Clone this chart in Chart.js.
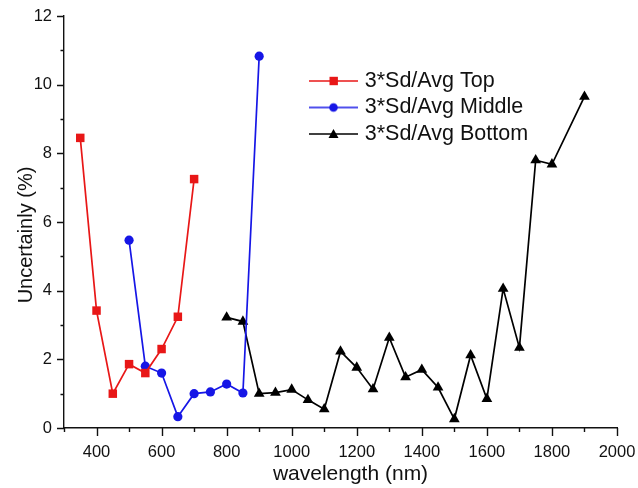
<!DOCTYPE html>
<html>
<head>
<meta charset="utf-8">
<script src="https://cdn.jsdelivr.net/npm/chart.js@4.4.1/dist/chart.umd.min.js"></script>
<style>
  html, body { margin: 0; padding: 0; background: #fff; }
  #wrap { width: 638px; height: 488px; }
</style>
</head>
<body>
<div id="wrap"><canvas id="myChart" width="638" height="488"></canvas></div>
<script>
// wavelength (nm) and uncertainty (%) per series
const topWavelength = [350, 400, 450, 500, 550, 600, 650, 700];
const topValues = [8.45, 3.42, 1.0, 1.86, 1.6, 2.3, 3.24, 7.25];

const middleWavelength = [500, 550, 600, 650, 700, 750, 800, 850, 900];
const middleValues = [5.47, 1.8, 1.6, 0.33, 1.0, 1.05, 1.28, 1.02, 10.83];

const bottomWavelength = [800, 850, 900, 950, 1000, 1050, 1100, 1150, 1200, 1250, 1300, 1350, 1400, 1450, 1500, 1550, 1600, 1650, 1700, 1750, 1800, 1900];
const bottomValues = [3.22, 3.1, 1.0, 1.03, 1.12, 0.82, 0.55, 2.23, 1.76, 1.13, 2.63, 1.48, 1.7, 1.18, 0.26, 2.12, 0.85, 4.06, 2.34, 7.8, 7.68, 9.65];

const seriesNames = ["3*Sd/Avg Top", "3*Sd/Avg Middle", "3*Sd/Avg Bottom"];
const xTickValues = [300, 400, 500, 600, 700, 800, 900, 1000, 1100, 1200, 1300, 1400, 1500, 1600, 1700, 1800, 1900, 2000];
const yTickValues = [0, 1, 2, 3, 4, 5, 6, 7, 8, 9, 10, 11, 12];
const xTitle = "wavelength (nm)";
const yTitle = "Uncertainly (%)";

const RED = "#e81717";
const BLUE = "#1616e6";
const BLACK = "#000000";
const FONT = '"Liberation Sans", Arial, sans-serif';

function toPoints(xs, ys) {
    return xs.map((x, i) => ({ x: x, y: ys[i] }));
}

// little legend sample: line with the marker in the middle
function legendSample(color, style) {
    const c = document.createElement("canvas");
    c.width = 49; c.height = 12;
    const g = c.getContext("2d");
    g.strokeStyle = color; g.fillStyle = color; g.lineWidth = 1.6;
    g.beginPath(); g.moveTo(0, 6); g.lineTo(49, 6); g.stroke();
    g.beginPath();
    if (style === "rect") g.rect(20.5, 1.8, 8.4, 8.4);
    else if (style === "circle") g.arc(24.5, 6, 4.3, 0, Math.PI * 2);
    else { g.moveTo(24.5, 1); g.lineTo(29.5, 10); g.lineTo(19.5, 10); g.closePath(); }
    g.fill();
    return c;
}

// axis ticks: long for labelled ones, short for the rest
const tickMarks = {
    id: "tickMarks",
    afterDraw(chart) {
        const ctx = chart.ctx;
        const xs = chart.scales.x, ys = chart.scales.y;
        ctx.save();
        ctx.strokeStyle = "#111";
        ctx.lineWidth = 1.4;
        ctx.beginPath();
        xs.ticks.forEach(t => {
            const px = Math.round(xs.getPixelForValue(t.value)) + 0.5;
            const len = t.value % 200 === 0 ? 8 : 4;
            ctx.moveTo(px, xs.top); ctx.lineTo(px, xs.top + len);
        });
        ys.ticks.forEach(t => {
            const py = Math.round(ys.getPixelForValue(t.value)) + 0.5;
            const len = t.value % 2 === 0 ? 7 : 3.5;
            ctx.moveTo(ys.right, py); ctx.lineTo(ys.right - len, py);
        });
        ctx.stroke();
        ctx.restore();
    }
};

// axis titles, set a little off centre as in the figure
const axisTitles = {
    id: "axisTitles",
    afterDraw(chart) {
        const { ctx, chartArea } = chart;
        ctx.save();
        ctx.fillStyle = "#111";
        ctx.textAlign = "center";
        ctx.textBaseline = "alphabetic";
        ctx.font = "21px " + FONT;
        ctx.fillText(xTitle, (chartArea.left + chartArea.right) / 2 + 10, chartArea.bottom + 51.5);
        ctx.font = "20px " + FONT;
        ctx.translate(31.5, (chartArea.top + chartArea.bottom) / 2 + 13);
        ctx.rotate(-Math.PI / 2);
        ctx.fillText(yTitle, 0, 0);
        ctx.restore();
    }
};

// put the legend inside the plot, upper middle
const legendSpot = {
    id: "legendSpot",
    afterLayout(chart) {
        const lg = chart.legend;
        const w = lg.width, h = lg.height;
        lg.left = 308; lg.top = 65.25;
        lg.right = lg.left + w; lg.bottom = lg.top + h;
    }
};

const ctx = document.getElementById("myChart").getContext("2d");

new Chart(ctx, {
    type: "scatter",
    data: {
        datasets: [
            {
                label: seriesNames[0],
                data: toPoints(topWavelength, topValues),
                showLine: true,
                borderColor: RED,
                backgroundColor: RED,
                borderWidth: 1.7,
                pointStyle: "rect",
                pointRadius: 6,
                pointBorderWidth: 0
            },
            {
                label: seriesNames[1],
                data: toPoints(middleWavelength, middleValues),
                showLine: true,
                borderColor: BLUE,
                backgroundColor: BLUE,
                borderWidth: 1.7,
                pointStyle: "circle",
                pointRadius: 4.6,
                pointBorderWidth: 0
            },
            {
                label: seriesNames[2],
                data: toPoints(bottomWavelength, bottomValues),
                showLine: true,
                borderColor: BLACK,
                backgroundColor: BLACK,
                borderWidth: 1.7,
                pointStyle: "triangle",
                pointRadius: 6.2,
                pointBorderWidth: 0
            }
        ]
    },
    options: {
        responsive: false,
        animation: false,
        layout: { padding: { left: 6, right: 21, top: 16, bottom: 6 } },
        plugins: {
            tooltip: { enabled: false },
            legend: {
                position: "chartArea",
                align: "start",
                labels: {
                    usePointStyle: true,
                    pointStyleWidth: 41,
                    boxHeight: 12,
                    padding: 5,
                    color: "#111",
                    font: { family: FONT, size: 21.5 },
                    generateLabels(chart) {
                        const styles = ["rect", "circle", "triangle"];
                        const colors = [RED, BLUE, BLACK];
                        return chart.data.datasets.map((ds, i) => ({
                            text: ds.label,
                            fillStyle: colors[i],
                            strokeStyle: colors[i],
                            lineWidth: 0,
                            pointStyle: legendSample(colors[i], styles[i]),
                            fontColor: "#111",
                            hidden: false,
                            datasetIndex: i
                        }));
                    }
                }
            }
        },
        scales: {
            x: {
                type: "linear",
                min: 300,
                max: 2000,
                afterBuildTicks(scale) {
                    scale.ticks = xTickValues.map(v => ({ value: v }));
                },
                afterFit(scale) {
                    scale.height = 488 - 428 - 6;
                    scale.paddingLeft = 0;
                    scale.paddingRight = 0;
                },
                grid: { display: false, drawTicks: false },
                border: { display: true, color: "#111", width: 1.4 },
                ticks: {
                    autoSkip: false,
                    maxRotation: 0,
                    padding: 14.5,
                    color: "#111",
                    font: { family: FONT, size: 16.5 },
                    callback: v => (v % 200 === 0 ? String(v) : "")
                }
            },
            y: {
                min: 0,
                max: 12,
                afterBuildTicks(scale) {
                    scale.ticks = yTickValues.map(v => ({ value: v }));
                },
                afterFit(scale) {
                    scale.width = 64 - 6;
                    scale.paddingTop = 0;
                    scale.paddingBottom = 0;
                },
                grid: { display: false, drawTicks: false },
                border: { display: true, color: "#111", width: 1.4 },
                ticks: {
                    autoSkip: false,
                    padding: 12,
                    color: "#111",
                    font: { family: FONT, size: 16.5 },
                    callback: v => (v % 2 === 0 ? String(v) : "")
                }
            }
        }
    },
    plugins: [tickMarks, axisTitles, legendSpot]
});
</script>
</body>
</html>
